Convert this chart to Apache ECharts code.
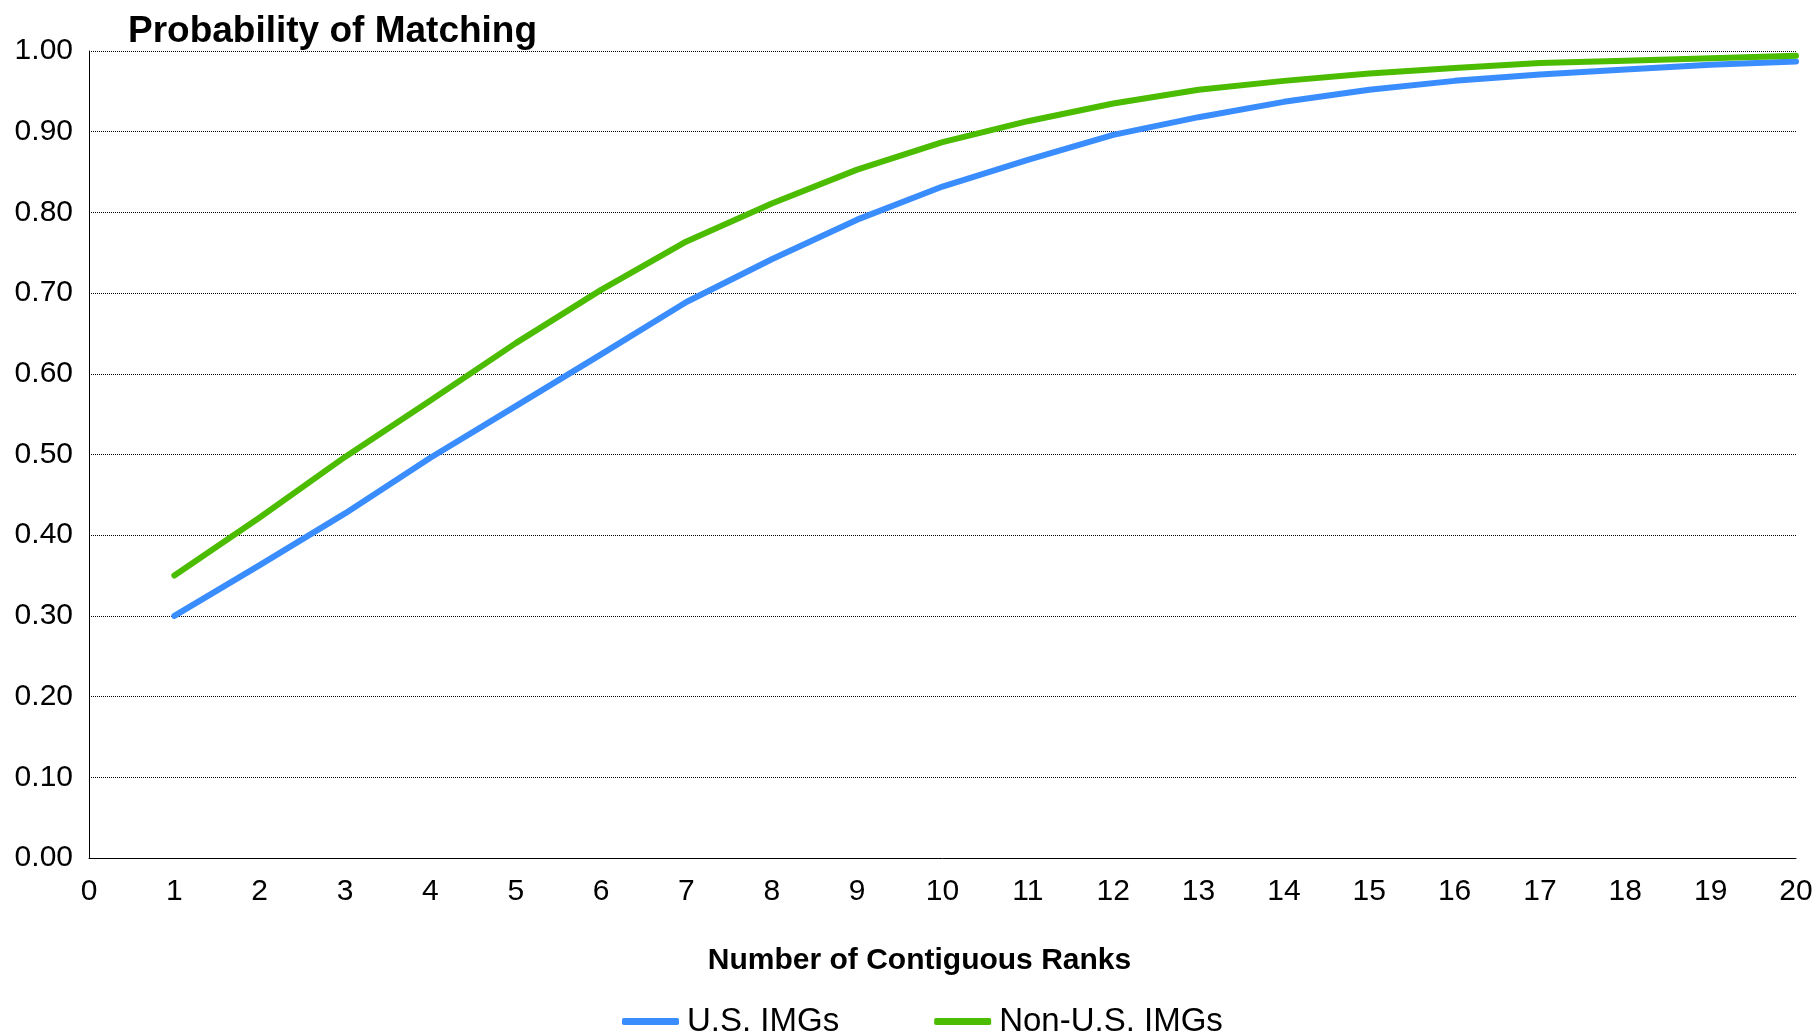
<!DOCTYPE html>
<html>
<head>
<meta charset="utf-8">
<script src="https://cdn.jsdelivr.net/npm/echarts@6/dist/echarts.min.js"></script>
<style>
html,body{margin:0;padding:0;background:#fff;}
#chart{width:1816px;height:1036px;}
</style>
</head>
<body>
<div id="chart"></div>
<script>
var ranks = [1,2,3,4,5,6,7,8,9,10,11,12,13,14,15,16,17,18,19,20];
var usIMGs = [0.300,0.363,0.427,0.496,0.560,0.624,0.689,0.742,0.791,0.832,0.865,0.896,0.918,0.937,0.952,0.963,0.971,0.977,0.983,0.987];
var nonUsIMGs = [0.350,0.422,0.497,0.567,0.638,0.704,0.764,0.811,0.853,0.887,0.913,0.935,0.952,0.963,0.972,0.979,0.985,0.988,0.991,0.994];
var seriesNames = ['U.S. IMGs','Non-U.S. IMGs'];
var titleText = 'Probability of Matching';
var xAxisTitle = 'Number of Contiguous Ranks';

function pairs(xs, ys){ return xs.map(function(x,i){ return [x, ys[i]]; }); }

var FONT = "'Liberation Sans', Arial, sans-serif";
var chart = echarts.init(document.getElementById('chart'), null, {renderer:'canvas'});
chart.setOption({
  backgroundColor:'#fff',
  animation:false,
  title:{
    text:titleText,
    left:123, top:8,
    textStyle:{fontFamily:FONT, fontSize:37, fontWeight:'bold', color:'#000'}
  },
  legend:{
    data:seriesNames,
    left:617, top:1000,
    icon:'roundRect',
    itemWidth:57, itemHeight:7,
    itemGap:95,
    textStyle:{fontFamily:FONT, fontSize:33, color:'#000', padding:[0,0,0,3]}
  },
  grid:{left:89, right:20, top:51, bottom:178, containLabel:false},
  xAxis:{
    type:'value', min:0, max:20, interval:1,
    name:xAxisTitle, nameLocation:'middle', nameGap:88,
    nameTextStyle:{fontFamily:FONT, fontSize:30, fontWeight:'bold', color:'#000', padding:[0,46,0,0]},
    axisLine:{show:true, lineStyle:{color:'#000', width:1}},
    axisTick:{show:false},
    splitLine:{show:false},
    axisLabel:{fontFamily:FONT, fontSize:30, color:'#000', margin:19}
  },
  yAxis:{
    type:'value', min:0, max:1, interval:0.1,
    axisLine:{show:true, lineStyle:{color:'#000', width:1}},
    axisTick:{show:false},
    splitLine:{show:true, lineStyle:{color:'#000', width:1, type:[1,1]}},
    axisLabel:{fontFamily:FONT, fontSize:30, color:'#000', margin:16,
      formatter:function(v){ return v.toFixed(2); }}
  },
  series:[
    {name:seriesNames[0], type:'line', data:pairs(ranks, usIMGs), symbol:'none',
     color:'#3a8dff', lineStyle:{width:6, color:'#3a8dff', cap:'round', join:'round'}},
    {name:seriesNames[1], type:'line', data:pairs(ranks, nonUsIMGs), symbol:'none',
     color:'#4cbc00', lineStyle:{width:6, color:'#4cbc00', cap:'round', join:'round'}}
  ]
});
</script>
</body>
</html>
